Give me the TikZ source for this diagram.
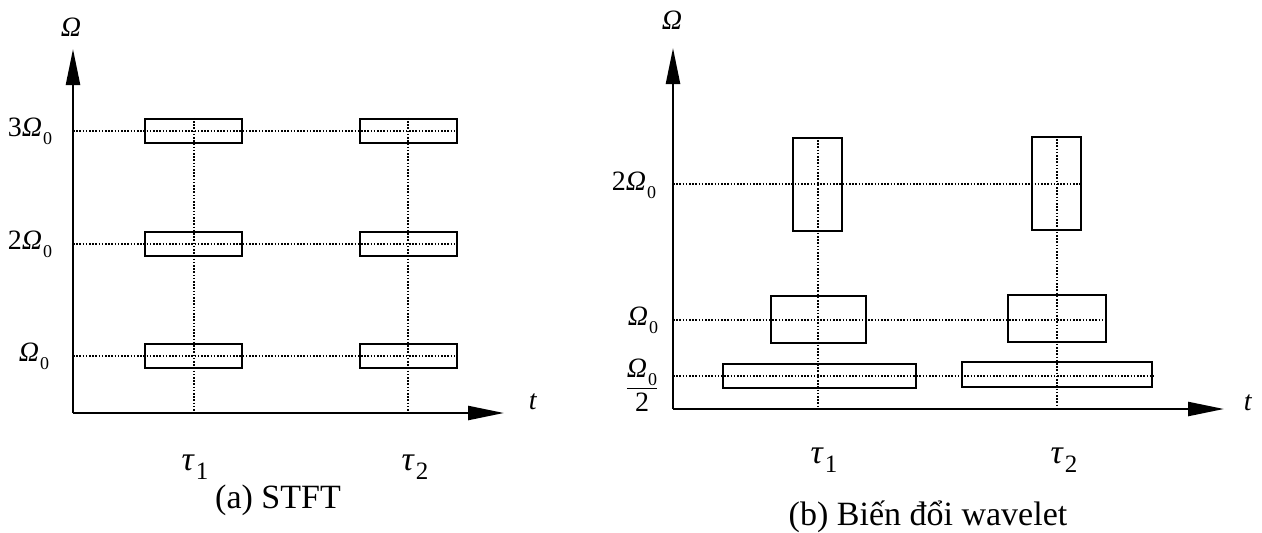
\documentclass[tikz,border=0pt]{standalone}
\usepackage{fontspec}
\setmainfont{Liberation Serif}
\usetikzlibrary{arrows.meta}
\newcommand{\Omg}{\textit{Ω}}
\newcommand{\zsub}[2]{\kern0.03em\raisebox{-0.28em}{\fontsize{#1}{#1}\selectfont #2}}
\tikzset{
  axis/.style={line width=2.4pt, -{Triangle[length=36pt,width=14pt]}},
  win/.style={draw, line width=2.4pt, inner sep=0pt, minimum width=#1},
  dots/.style={line width=2pt, dash pattern=on 1.6pt off 1.6pt},
  lab/.style={font=\fontsize{28}{30}\selectfont, inner sep=0pt},
  tau/.style={font=\fontsize{34}{36}\selectfont, inner sep=0pt},
  captext/.style={font=\fontsize{34}{36}\selectfont, inner sep=0pt},
}
\begin{document}
\begin{tikzpicture}[x=1pt,y=-1pt]
\useasboundingbox (0,0) rectangle (1262,533);
% ---------- (a) STFT ----------
\coordinate (oA) at (73,413);
\coordinate (yA) at (73,49);
\coordinate (xA) at (504,413);
\draw[axis] (oA) -- (yA);
\draw[axis] (oA) -- (xA);
\foreach \r/\yy in {3/131,2/244,1/356}{
  \node[win=97pt, minimum height=24pt] (a\r) at (193.5,\yy) {};
  \node[win=97pt, minimum height=24pt] (b\r) at (408.5,\yy) {};
  \coordinate (la\r) at (73,\yy);
  \draw[dots] (la\r) -- (b\r.east);
}
\coordinate (ta) at (194,413);
\coordinate (tb) at (408,413);
\draw[dots] (a3.north -| ta) -- (ta);
\draw[dots] (b3.north -| tb) -- (tb);
\node[lab] (OmA) at (71,27) {\Omg};
\node[lab] (l3) at (30,131) {3\Omg\zsub{18}{0}};
\node[lab] (l2) at (30,244) {2\Omg\zsub{18}{0}};
\node[lab] (l1) at (34,356) {\Omg\zsub{18}{0}};
\node[lab] (tA) at (533,402) {\textit{t}};
\node[tau] (tau1a) at (195,467) {\textit{τ}\zsub{25}{1}};
\node[tau] (tau2a) at (415,467) {\textit{τ}\zsub{25}{2}};
\node[captext] (capA) at (278,500) {(a) STFT};
% ---------- (b) wavelet ----------
\coordinate (oB) at (673,409);
\coordinate (yB) at (673,48);
\coordinate (xB) at (1224,409);
\draw[axis] (oB) -- (yB);
\draw[axis] (oB) -- (xB);
\node[win=49pt, minimum height=93pt] (c3) at (817.5,184.5) {};
\node[win=49pt, minimum height=93pt] (d3) at (1056.5,183.5) {};
\node[win=95pt, minimum height=47pt] (c2) at (818.5,319.5) {};
\node[win=98pt, minimum height=47pt] (d2) at (1057,318.5) {};
\node[win=193pt, minimum height=24pt] (c1) at (819.5,376) {};
\node[win=190pt, minimum height=25pt] (d1) at (1057,374.5) {};
\foreach \r/\yy in {3/184,2/320,1/376}{
  \coordinate (lb\r) at (673,\yy);
  \draw[dots] (lb\r) -- (lb\r -| d\r.east);
}
\coordinate (tc) at (818,409);
\coordinate (td) at (1057,409);
\draw[dots] (c3.north -| tc) -- (tc);
\draw[dots] (d3.north -| td) -- (td);
\node[lab] (OmB) at (672,20) {\Omg};
\node[lab] (m3) at (634,185) {2\Omg\zsub{18}{0}};
\node[lab] (m2) at (643,320) {\Omg\zsub{18}{0}};
\node[lab] (m1) at (642,385) {$\displaystyle\frac{\mbox{\Omg\zsub{18}{0}}}{\mbox{2}}$};
\node[lab] (tB) at (1248,403) {\textit{t}};
\node[tau] (tau1b) at (824,460) {\textit{τ}\zsub{25}{1}};
\node[tau] (tau2b) at (1064,460) {\textit{τ}\zsub{25}{2}};
\node[captext] (capB) at (928,517) {(b) Biến đổi wavelet};
\end{tikzpicture}
\end{document}
